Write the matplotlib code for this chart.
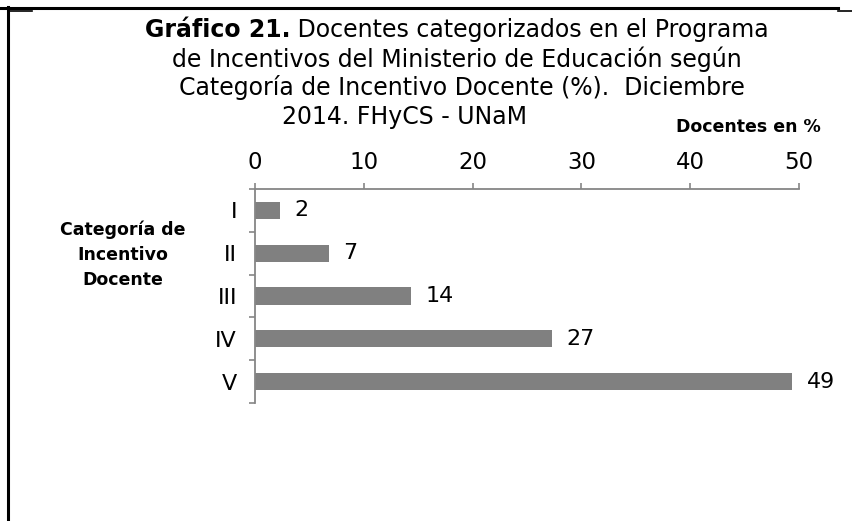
import matplotlib
matplotlib.use("Agg")
import matplotlib.pyplot as plt
from matplotlib.lines import Line2D
from matplotlib.ticker import FixedLocator

# datos del gráfico
categorias = ["I", "II", "III", "IV", "V"]
porcentajes = [2.3, 6.8, 14.3, 27.3, 49.4]
ticks_x = [0, 10, 20, 30, 40, 50]

titulo = [
    ("Gráfico 21.", " Docentes categorizados en el Programa"),
    ("", "de Incentivos del Ministerio de Educación según"),
    ("", "Categoría de Incentivo Docente (%).  Diciembre"),
    ("", "2014. FHyCS - UNaM"),
]

plt.rcParams["font.family"] = ["DejaVu Sans"]

W, H = 852, 521
fig = plt.figure(figsize=(W / 100, H / 100), dpi=100)


def fx(px):
    return px / W


def fy(py):
    return 1 - py / H


gris = "#868686"
ax = fig.add_axes([fx(255), fy(403), fx(799) - fx(255), fy(189) - fy(403)])

pos = list(range(len(categorias)))
ax.barh(pos, porcentajes, height=0.4, color="#808080")
ax.set_xlim(0, 50)
ax.set_ylim(len(categorias) - 0.5, -0.5)

ax.xaxis.tick_top()
ax.set_xticks(ticks_x)
ax.set_xticklabels([str(t) for t in ticks_x], fontsize=16.5)
ax.tick_params(axis="x", which="major", direction="out", length=4, width=1.2,
               color=gris, pad=7)

ax.set_yticks(pos)
ax.set_yticklabels(categorias, fontsize=16)
ax.yaxis.set_minor_locator(FixedLocator([p - 0.5 for p in pos] + [pos[-1] + 0.5]))
ax.tick_params(axis="y", which="major", length=0, pad=13)
ax.tick_params(axis="y", which="minor", direction="out", length=4.5, width=1.2, color=gris)

for s in ["right", "bottom"]:
    ax.spines[s].set_visible(False)
for s in ["top", "left"]:
    ax.spines[s].set_color(gris)
    ax.spines[s].set_linewidth(1.3)

for i, v in enumerate(porcentajes):
    ax.annotate(f"{v:.0f}", (v, i), xytext=(10.5, 0), textcoords="offset points",
                va="center", ha="left", fontsize=16)

# título, línea por línea
ys = [30, 59, 88, 117]
xs = [457, 457, 462, 404]
for (neg, resto), y, x in zip(titulo, ys, xs):
    if neg:
        t1 = fig.text(0, 0, neg, fontsize=17, fontweight="bold")
        t2 = fig.text(0, 0, resto, fontsize=17)
        fig.canvas.draw()
        r = fig.canvas.get_renderer()
        w1 = t1.get_window_extent(r).width
        w2 = t2.get_window_extent(r).width
        x0 = x - (w1 + w2) / 2
        t1.set_position((fx(x0), fy(y)))
        t1.set_va("center")
        t2.set_position((fx(x0 + w1), fy(y)))
        t2.set_va("center")
    else:
        fig.text(fx(x), fy(y), resto, fontsize=17, ha="center", va="center")

fig.text(fx(748), fy(127), "Docentes en %", fontsize=12.5, fontweight="bold",
         ha="center", va="center")
fig.text(fx(123), fy(255), "Categoría de\nIncentivo\nDocente", fontsize=12.5,
         fontweight="bold", ha="center", va="center", linespacing=1.5)

# bordes de la tabla
fig.add_artist(Line2D([0, fx(838)], [fy(7.5), fy(7.5)], color="black", lw=2.2,
                      transform=fig.transFigure))
fig.add_artist(Line2D([fx(838), 1], [fy(10.5), fy(10.5)], color="black", lw=1.2,
                      transform=fig.transFigure))
fig.add_artist(Line2D([fx(7.5), fx(7.5)], [fy(6.5), 0], color="black", lw=2.2,
                      transform=fig.transFigure))
fig.add_artist(Line2D([fx(8), fx(32)], [fy(11), fy(11)], color="black", lw=1.2,
                      transform=fig.transFigure))

fig.savefig("out.png", dpi=100)
